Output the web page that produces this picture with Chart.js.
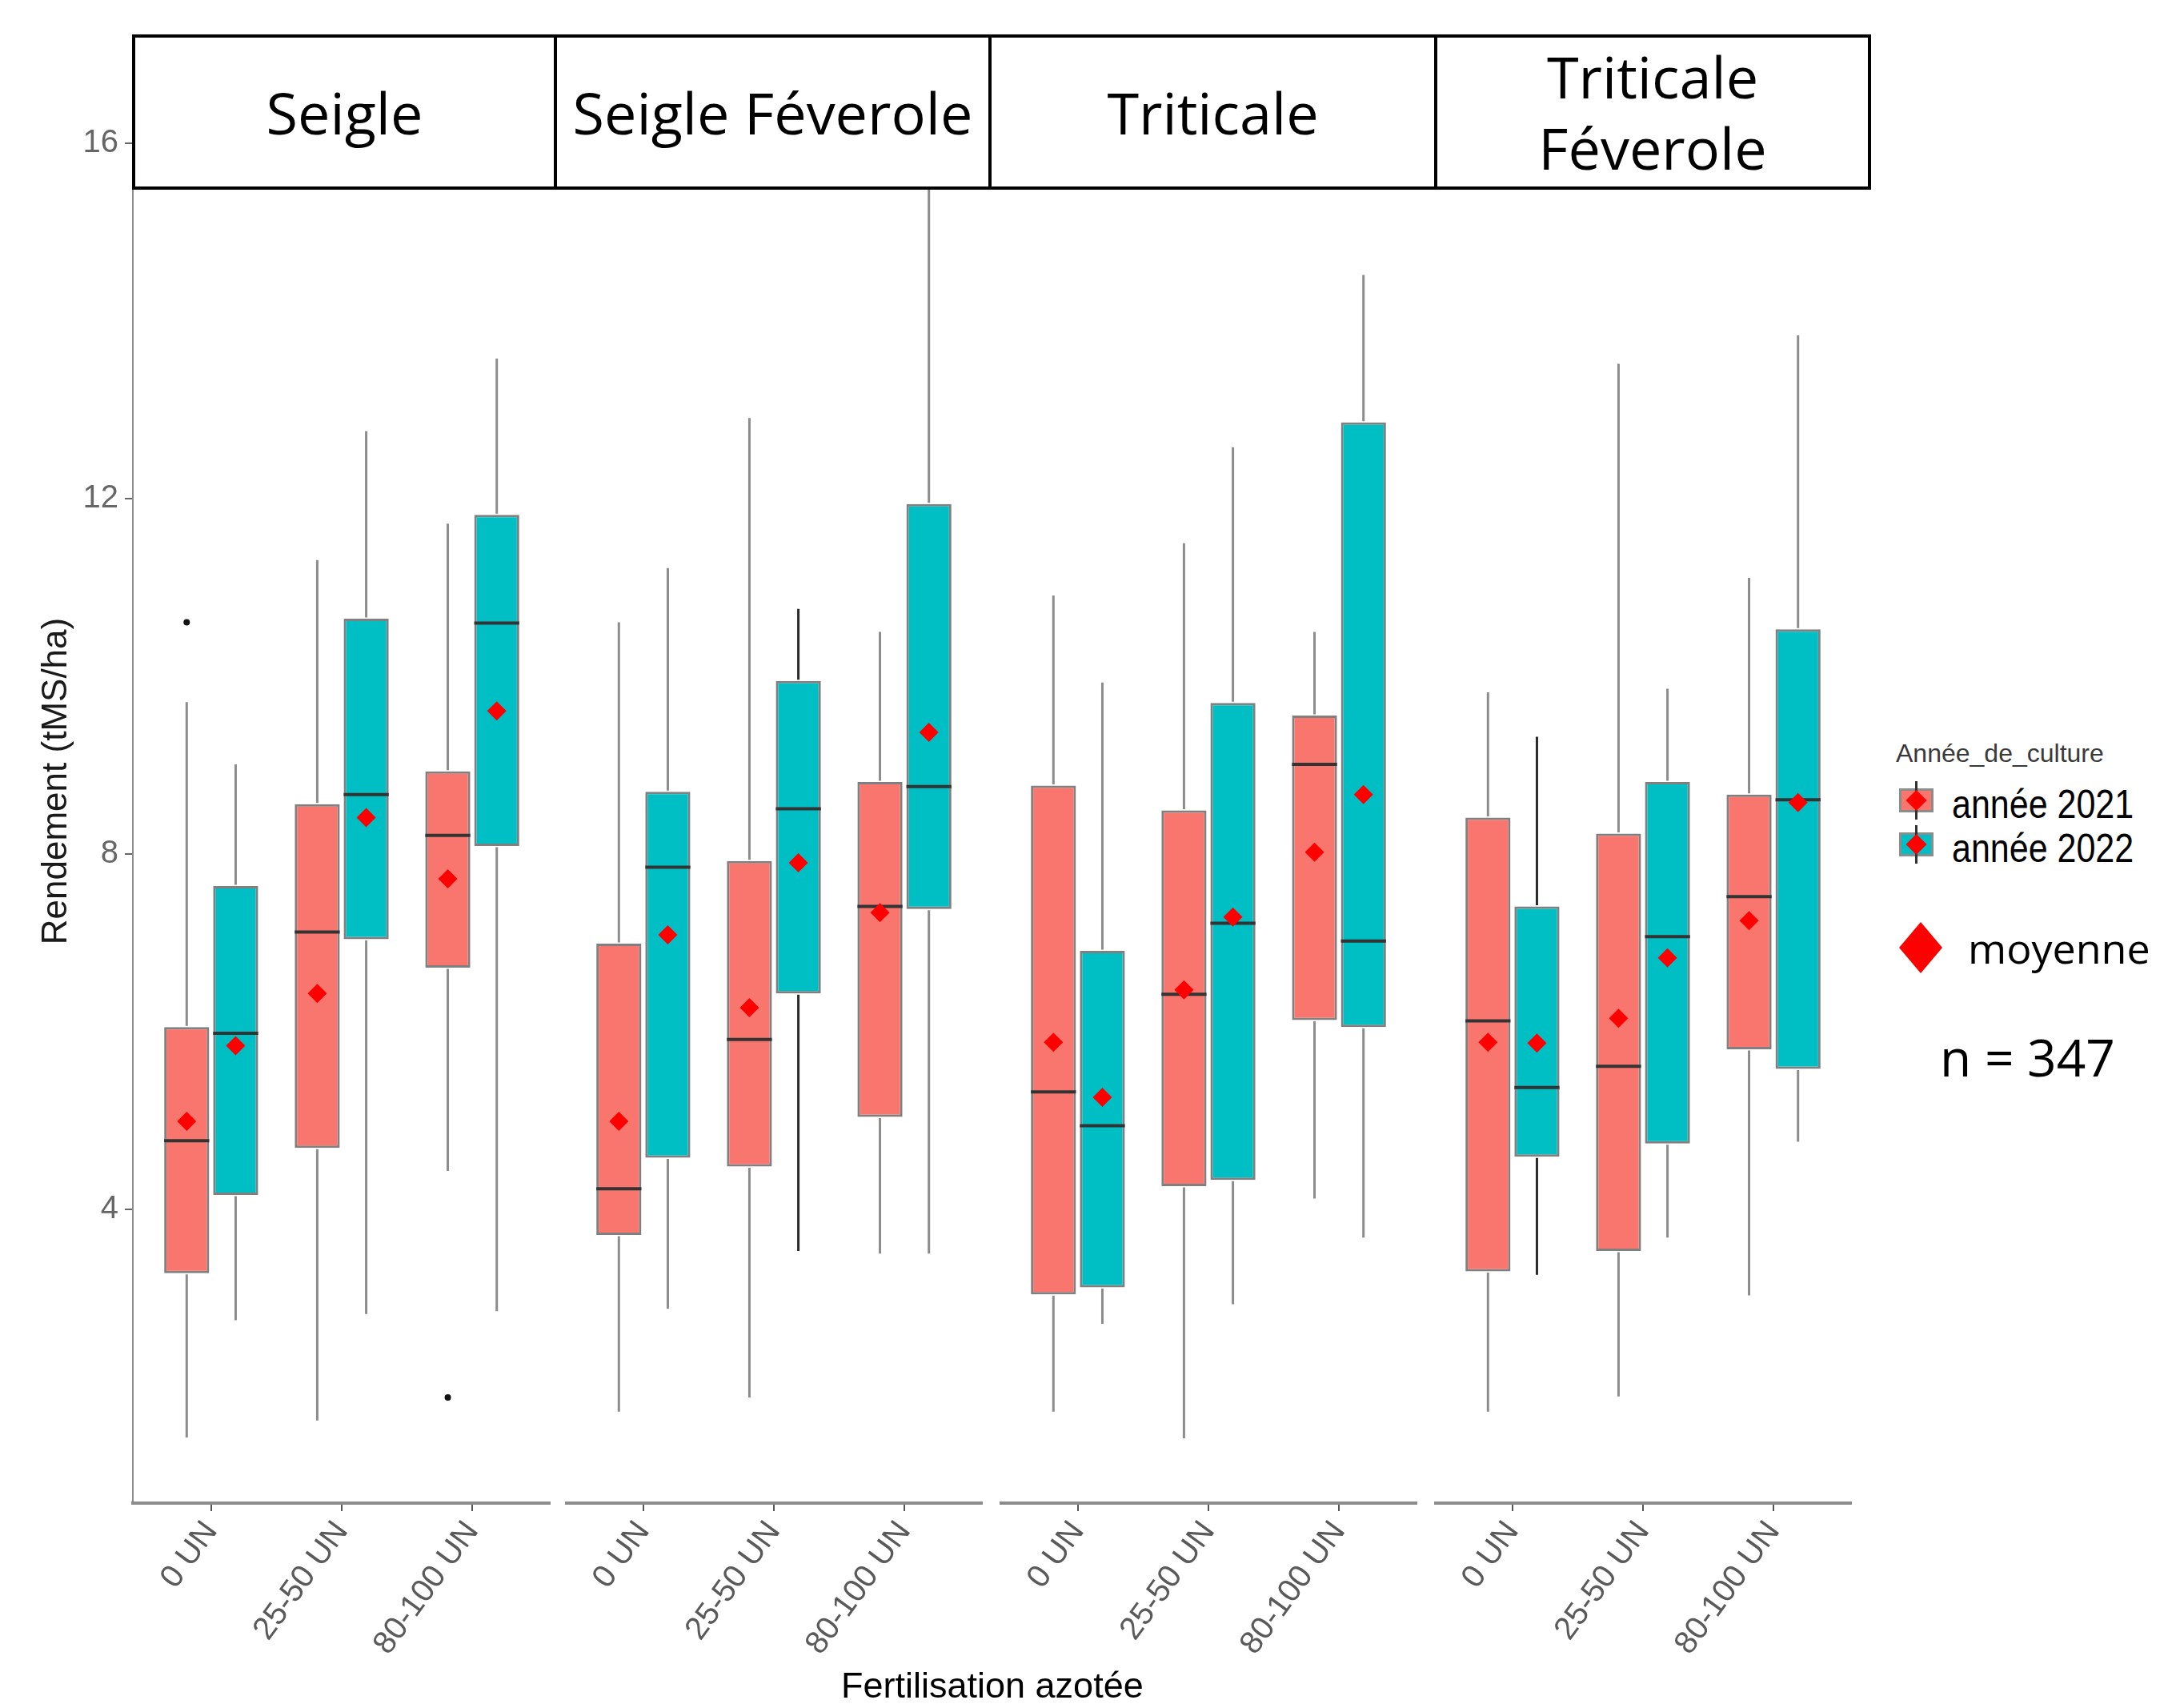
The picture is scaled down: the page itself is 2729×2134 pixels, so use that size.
<!DOCTYPE html>
<html>
<head>
<meta charset="utf-8">
<script src="https://cdn.jsdelivr.net/npm/chart.js@4.4.1/dist/chart.umd.min.js"></script>
<style>
  body { margin: 0; background: #fff; width: 2729px; height: 2134px; position: relative; overflow: hidden; }
  canvas { position: absolute; top: 0; }
  .strip { position: absolute; top: 43px; height: 194px; box-sizing: border-box; border: 4px solid #000; background: #fff;
           display: flex; align-items: center; justify-content: center; text-align: center; white-space: pre-line;
           font-family: "Open Sans", sans-serif; font-size: 72px; line-height: 89px; color: #000; }
  .abs { position: absolute; white-space: nowrap; }
  .diamond { position: absolute; background: #ff0000; clip-path: polygon(50% 0, 100% 50%, 50% 100%, 0 50%); }
</style>
</head>
<body>
<script>
// facets, doses and years
const facets = ['Seigle', 'Seigle Féverole', 'Triticale', 'Triticale Féverole'];
const stripLabels = ['Seigle', 'Seigle Féverole', 'Triticale', 'Triticale\nFéverole'];
const doses = ['0 UN', '25-50 UN', '80-100 UN'];
const yearLabels = ['année 2021', 'année 2022'];
const yTicks = [4, 8, 12, 16];

// rows = facets, columns = doses (tMS/ha)
const low2021  = [[1.43, 1.62, 4.43], [1.72, 1.88, 3.50], [1.72, 1.42, 4.12], [1.72, 1.89, 3.03]];
const q1_2021  = [[3.28, 4.69, 6.72], [3.71, 4.48, 5.04], [3.04, 4.26, 6.13], [3.30, 3.53, 5.80]];
const med2021  = [[4.77, 7.12, 8.21], [4.23, 5.91, 7.41], [5.32, 6.42, 9.01], [6.12, 5.61, 7.52]];
const q3_2021  = [[6.05, 8.56, 8.93], [6.99, 7.92, 8.81], [8.77, 8.49, 9.56], [8.41, 8.23, 8.67]];
const high2021 = [[9.71, 11.31, 11.72], [10.61, 12.91, 10.50], [10.91, 11.50, 10.50], [9.82, 13.52, 11.11]];
const mean2021 = [[4.99, 6.43, 7.72], [4.99, 6.27, 7.34], [5.88, 6.47, 8.02], [5.88, 6.15, 7.25]];

const low2022  = [[2.75, 2.82, 2.85], [2.88, 3.53, 3.50], [2.71, 2.93, 3.68], [3.26, 3.68, 4.76]];
const q1_2022  = [[4.16, 7.04, 8.09], [4.58, 6.43, 7.38], [3.12, 4.33, 6.05], [4.59, 4.74, 5.58]];
const med2022  = [[5.98, 8.67, 10.60], [7.85, 8.51, 8.76], [4.94, 7.22, 7.02], [5.37, 7.07, 8.61]];
const q3_2022  = [[7.64, 10.65, 11.82], [8.70, 9.95, 11.94], [6.91, 9.70, 12.86], [7.41, 8.81, 10.53]];
const high2022 = [[9.01, 12.76, 13.58], [11.22, 10.76, 16.40], [9.93, 12.58, 14.52], [9.32, 9.86, 13.84]];
const mean2022 = [[5.84, 8.41, 9.61], [7.09, 7.90, 9.37], [5.26, 7.29, 8.67], [5.87, 6.83, 8.58]];

// outliers (facet index, dose index, year index, value)
const outlierFacet = [0, 0];
const outlierDose = [0, 2];
const outlierYear = [0, 0];
const outlierValue = [10.61, 1.88];

// layout / style (kept apart from data)
const yearFill = ['#F8766D', '#00BFC4'];
const darkWhiskers = ['1-1-1', '3-0-1']; // facet-dose-year drawn with a black whisker
const panelLeft = [166, 706, 1249, 1792];
const panelWidth = 522;
const yAxisWidth = 166;
const dodge = 0.1875;

Chart.defaults.font.family = "'Liberation Sans', Arial, sans-serif";

// whiskers + medians drawn from each box's stats through the y scale
const boxPlugin = {
  id: 'boxWhiskers',
  afterDatasetDraw(chart, args) {
    const ds = chart.data.datasets[args.index];
    if (!ds.stats) return;
    const ctx = chart.ctx;
    const y = chart.scales.y;
    ctx.save();
    args.meta.data.forEach((bar, i) => {
      const s = ds.stats[i];
      ctx.strokeStyle = ds.whiskerColors[i];
      ctx.lineWidth = 3;
      ctx.beginPath();
      ctx.moveTo(bar.x, y.getPixelForValue(s.hi));
      ctx.lineTo(bar.x, y.getPixelForValue(s.q3) - 1.5);
      ctx.moveTo(bar.x, y.getPixelForValue(s.q1) + 1.5);
      ctx.lineTo(bar.x, y.getPixelForValue(s.lo));
      ctx.stroke();
      const m = y.getPixelForValue(s.med);
      ctx.strokeStyle = '#333';
      ctx.lineWidth = 4;
      ctx.beginPath();
      ctx.moveTo(bar.x - bar.width / 2, m);
      ctx.lineTo(bar.x + bar.width / 2, m);
      ctx.stroke();
    });
    ctx.restore();
  }
};

const stats = [
  { lo: low2021, q1: q1_2021, med: med2021, q3: q3_2021, hi: high2021, mean: mean2021 },
  { lo: low2022, q1: q1_2022, med: med2022, q3: q3_2022, hi: high2022, mean: mean2022 }
];

function buildPanel(f) {
  const showY = f === 0;
  const canvas = document.createElement('canvas');
  canvas.width = showY ? yAxisWidth + panelWidth : panelWidth;
  canvas.height = 2134;
  canvas.style.left = (showY ? 0 : panelLeft[f]) + 'px';
  document.body.appendChild(canvas);

  const boxSets = stats.map((st, yi) => ({
    type: 'bar',
    label: yearLabels[yi],
    data: doses.map((d, i) => ({ x: i + 1, y: [st.q1[f][i], st.q3[f][i]] })),
    stats: doses.map((d, i) => ({ lo: st.lo[f][i], q1: st.q1[f][i], med: st.med[f][i], q3: st.q3[f][i], hi: st.hi[f][i] })),
    whiskerColors: doses.map((d, i) => darkWhiskers.includes(f + '-' + i + '-' + yi) ? '#2b2b2b' : '#8c8c8c'),
    backgroundColor: yearFill[yi],
    borderColor: '#808080',
    borderWidth: 3,
    borderSkipped: false,
    categoryPercentage: 0.75,
    barPercentage: 0.92,
    order: 2
  }));

  const meanPoints = [];
  stats.forEach((st, yi) => {
    doses.forEach((d, i) => {
      meanPoints.push({ x: i + 1 + (yi === 0 ? -dodge : dodge), y: st.mean[f][i] });
    });
  });

  const outPoints = [];
  outlierValue.forEach((v, k) => {
    if (outlierFacet[k] !== f) return;
    outPoints.push({ x: outlierDose[k] + 1 + (outlierYear[k] === 0 ? -dodge : dodge), y: v });
  });

  new Chart(canvas.getContext('2d'), {
    type: 'bar',
    data: {
      datasets: [
        ...boxSets,
        { type: 'scatter', label: 'moyenne', data: meanPoints, pointStyle: 'rectRot', pointRadius: 12,
          backgroundColor: '#ff0000', borderWidth: 0, order: 0 },
        { type: 'scatter', label: 'outliers', data: outPoints, pointStyle: 'circle', pointRadius: 4,
          backgroundColor: '#111', borderWidth: 0, order: 1 }
      ]
    },
    options: {
      responsive: false,
      animation: false,
      events: [],
      layout: { autoPadding: false, padding: { top: 74, left: 0, right: 0, bottom: 0 } },
      plugins: { legend: { display: false }, tooltip: { enabled: false } },
      scales: {
        x: {
          type: 'linear', min: 0.4, max: 3.6, offset: false,
          afterBuildTicks: s => { s.ticks = doses.map((d, i) => ({ value: i + 1 })); },
          afterFit: s => { s.height = 256; s.paddingLeft = 0; s.paddingRight = 0; },
          ticks: {
            autoSkip: false, minRotation: 54, maxRotation: 54, padding: 4,
            color: '#5a5a5a', font: { size: 40 },
            callback: (v, i) => doses[i]
          },
          grid: { display: true, offset: false, drawOnChartArea: false, drawTicks: true, tickLength: 10, color: '#555', lineWidth: 2 },
          border: { display: true, color: '#8c8c8c', width: 4 }
        },
        y: {
          display: showY,
          min: 0.69, max: 16.95,
          afterBuildTicks: s => { s.ticks = yTicks.map(v => ({ value: v })); },
          afterFit: s => { if (showY) s.width = yAxisWidth; s.paddingTop = 0; s.paddingBottom = 0; },
          ticks: { color: '#666', font: { size: 40 }, padding: 8 },
          grid: { display: true, drawOnChartArea: false, drawTicks: true, tickLength: 10, color: '#666', lineWidth: 2 },
          border: { display: true, color: '#8c8c8c', width: 2 },
          title: { display: true, text: 'Rendement (tMS/ha)', color: '#1a1a1a', font: { size: 44 }, padding: { top: 44, bottom: 0 } }
        }
      }
    },
    plugins: [boxPlugin]
  });
}

facets.forEach((name, f) => buildPanel(f));

// facet strips
const stripEdges = [167, 694, 1237, 1794, 2336];
stripLabels.forEach((lab, f) => {
  const d = document.createElement('div');
  d.className = 'strip';
  d.style.left = (stripEdges[f] - 2) + 'px';
  d.style.width = (stripEdges[f + 1] - stripEdges[f] + 4) + 'px';
  d.textContent = lab;
  document.body.appendChild(d);
});

function addText(text, left, top, css) {
  const d = document.createElement('div');
  d.className = 'abs';
  d.style.left = left + 'px';
  d.style.top = top + 'px';
  d.style.cssText += css;
  d.textContent = text;
  document.body.appendChild(d);
  return d;
}
function addBox(left, top, w, h, css) {
  const d = document.createElement('div');
  d.style.cssText = 'position:absolute;box-sizing:border-box;left:' + left + 'px;top:' + top + 'px;width:' + w + 'px;height:' + h + 'px;' + css;
  document.body.appendChild(d);
  return d;
}
function addDiamond(cx, cy, w, h) {
  const d = document.createElement('div');
  d.className = 'diamond';
  d.style.left = (cx - w / 2) + 'px';
  d.style.top = (cy - h / 2) + 'px';
  d.style.width = w + 'px';
  d.style.height = h + 'px';
  document.body.appendChild(d);
}

// x axis title
const xt = addText('Fertilisation azotée', 0, 2083, 'font-family:"Liberation Sans",Arial,sans-serif;font-size:45px;line-height:45px;color:#000;');
xt.style.left = (1240 - xt.offsetWidth / 2) + 'px';

// legend
addText('Année_de_culture', 2369, 925, 'font-family:"Liberation Sans",Arial,sans-serif;font-size:32px;line-height:32px;color:#3a3a3a;');
const keyCenters = [1000, 1055];
yearLabels.forEach((lab, i) => {
  const cy = keyCenters[i];
  addBox(2373, cy - 15, 43, 30, 'background:' + yearFill[i] + ';border:3px solid #8c8c8c;');
  addBox(2393, cy - 24, 3, 48, 'background:#333;');
  addDiamond(2394.5, cy, 26, 26);
  addText(lab, 2439, cy - 20, 'font-family:"Liberation Sans",Arial,sans-serif;font-size:50px;line-height:50px;color:#000;transform:scaleX(0.86);transform-origin:0 0;');
});
addDiamond(2400, 1184, 54, 64);
addText('moyenne', 2459, 1158, 'font-family:"Open Sans",sans-serif;font-size:52px;line-height:52px;color:#000;');
addText('n = 347', 2424, 1289, 'font-family:"Open Sans",sans-serif;font-size:64px;line-height:64px;color:#000;');
</script>
</body>
</html>
